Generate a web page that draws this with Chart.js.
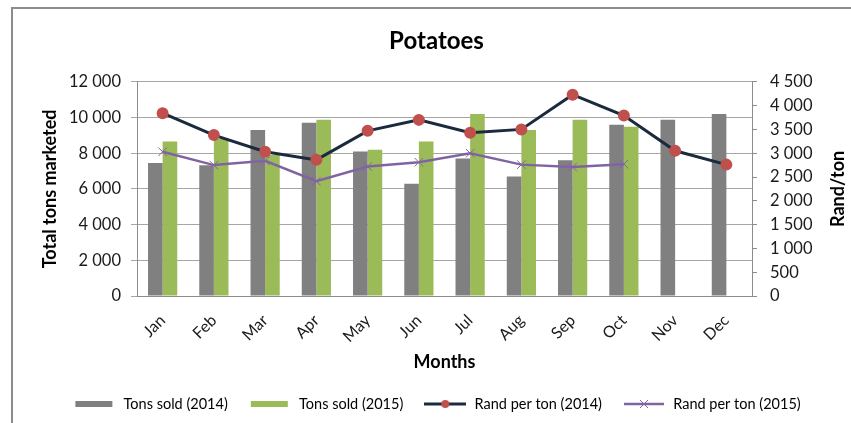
<!DOCTYPE html>
<html lang="en">
<head>
    <meta charset="UTF-8">
    <title>Potatoes</title>
    <script src="https://cdn.jsdelivr.net/npm/chart.js"></script>
    <style>
        body { margin: 0; background: #fff; }
        #frame {
            position: absolute;
            left: 11px;
            top: 7px;
            width: 900px;
            height: 500px;
            border: 2px solid #8c8c8c;
        }
        #potatoChart { position: absolute; left: 0; top: 0; }
    </style>
</head>
<body>
    <div id="frame"></div>
    <canvas id="potatoChart" width="851" height="423"></canvas>

    <script>
        const months = ['Jan', 'Feb', 'Mar', 'Apr', 'May', 'Jun', 'Jul', 'Aug', 'Sep', 'Oct', 'Nov', 'Dec'];
        const tons2014 = [7450, 7330, 9300, 9700, 8100, 6290, 7700, 6700, 7600, 9600, 9870, 10200];
        const tons2015 = [8650, 8800, 7900, 9880, 8190, 8650, 10200, 9300, 9870, 9480, null, null];
        const rand2014 = [3840, 3380, 3030, 2860, 3470, 3700, 3430, 3500, 4230, 3790, 3050, 2760];
        const rand2015 = [3030, 2750, 2840, 2410, 2720, 2810, 3000, 2760, 2710, 2770, null, null];

        const FONT = 'Lato, "Open Sans", sans-serif';
        const GRAY = '#808080';
        const GREEN = '#9bbb59';
        const NAVY = '#1b2a3c';
        const RED = '#c0504d';
        const PURPLE = '#8064a2';

        // thousands with a space: 12 000
        function spaced(v) {
            return String(v).replace(/\B(?=(\d{3})+(?!\d))/g, ' ');
        }

        // little pictures for the legend
        function legendIcon(kind) {
            const c = document.createElement('canvas');
            c.width = 42;
            c.height = 10;
            const g = c.getContext('2d');
            if (kind === 'gray' || kind === 'green') {
                g.fillStyle = kind === 'gray' ? GRAY : GREEN;
                g.fillRect(2, 2, 37, 6);
            } else if (kind === 'r14') {
                g.strokeStyle = NAVY;
                g.lineWidth = 3;
                g.beginPath(); g.moveTo(0, 5); g.lineTo(42, 5); g.stroke();
                g.fillStyle = RED;
                g.beginPath(); g.arc(21, 5, 4, 0, Math.PI * 2); g.fill();
            } else {
                g.strokeStyle = PURPLE;
                g.lineWidth = 2.5;
                g.beginPath(); g.moveTo(1, 5); g.lineTo(41, 5); g.stroke();
                g.lineWidth = 1;
                g.beginPath();
                g.moveTo(17, 1); g.lineTo(25, 9);
                g.moveTo(25, 1); g.lineTo(17, 9);
                g.stroke();
            }
            return c;
        }

        const icons = [legendIcon('gray'), legendIcon('green'), legendIcon('r14'), legendIcon('r15')];

        // right axis title reads bottom-to-top like the left one
        const rightTitle = {
            id: 'rightTitle',
            afterDraw(chart) {
                const ctx = chart.ctx;
                const area = chart.chartArea;
                ctx.save();
                ctx.translate(838, (area.top + area.bottom) / 2);
                ctx.rotate(-Math.PI / 2);
                ctx.font = 'bold 18px ' + FONT;
                ctx.fillStyle = '#000';
                ctx.textAlign = 'center';
                ctx.textBaseline = 'middle';
                ctx.fillText('Rand/ton', 0, 0);
                ctx.restore();
            }
        };

        Chart.defaults.font.family = FONT;
        Chart.defaults.color = '#1a1a1a';

        new Chart(document.getElementById('potatoChart'), {
            type: 'bar',
            data: {
                labels: months,
                datasets: [
                    {
                        label: 'Tons sold (2014)',
                        data: tons2014,
                        backgroundColor: GRAY,
                        yAxisID: 'y',
                        order: 2
                    },
                    {
                        label: 'Tons sold (2015)',
                        data: tons2015,
                        backgroundColor: GREEN,
                        yAxisID: 'y',
                        order: 2
                    },
                    {
                        type: 'line',
                        label: 'Rand per ton (2014)',
                        data: rand2014,
                        borderColor: NAVY,
                        borderWidth: 3,
                        pointStyle: 'circle',
                        pointRadius: 4.5,
                        pointBackgroundColor: RED,
                        pointBorderColor: RED,
                        tension: 0,
                        yAxisID: 'y1',
                        order: 1
                    },
                    {
                        type: 'line',
                        label: 'Rand per ton (2015)',
                        data: rand2015,
                        borderColor: PURPLE,
                        borderWidth: 2.5,
                        pointStyle: 'crossRot',
                        pointRadius: 6,
                        pointBorderWidth: 1,
                        pointBorderColor: PURPLE,
                        tension: 0,
                        yAxisID: 'y1',
                        order: 1
                    }
                ]
            },
            options: {
                responsive: false,
                animation: false,
                layout: { padding: { left: 22, right: 0, top: 0, bottom: 1.75 } },
                datasets: {
                    bar: { categoryPercentage: 0.57, barPercentage: 1 }
                },
                scales: {
                    x: {
                        grid: { display: false },
                        border: { display: true, color: '#8c8c8c', width: 1 },
                        ticks: {
                            font: { size: 16 },
                            maxRotation: 45,
                            minRotation: 45,
                            padding: 7
                        },
                        title: {
                            display: true,
                            text: 'Months',
                            font: { size: 18, weight: 'bold' },
                            color: '#000',
                            padding: { top: 0, bottom: 4 }
                        },
                        afterFit: (s) => { s.height = 80.75; }
                    },
                    y: {
                        position: 'left',
                        min: 0,
                        max: 12000,
                        ticks: {
                            stepSize: 2000,
                            font: { size: 16.5 },
                            padding: 10,
                            callback: (v) => spaced(v)
                        },
                        grid: { color: '#a6a6a6', tickLength: 6 },
                        border: { color: '#8c8c8c' },
                        title: {
                            display: true,
                            text: 'Total tons marketed',
                            font: { size: 18, weight: 'bold' },
                            color: '#000',
                            padding: { top: 17, bottom: 0 }
                        },
                        afterFit: (s) => { s.width = 115; }
                    },
                    y1: {
                        position: 'right',
                        min: 0,
                        max: 4500,
                        ticks: {
                            stepSize: 500,
                            font: { size: 16.5 },
                            padding: 13,
                            callback: (v) => spaced(v)
                        },
                        grid: { drawOnChartArea: false, color: '#8c8c8c', tickLength: 5 },
                        border: { color: '#8c8c8c' },
                        afterFit: (s) => { s.width = 99; }
                    }
                },
                plugins: {
                    title: {
                        display: true,
                        text: 'Potatoes',
                        color: '#000',
                        font: { size: 24, weight: 'bold' },
                        padding: { top: 27, bottom: 26 }
                    },
                    legend: {
                        position: 'bottom',
                        labels: {
                            usePointStyle: true,
                            pointStyleWidth: 44,
                            boxHeight: 10,
                            padding: 20,
                            color: '#1a1a1a',
                            font: { size: 14.5 },
                            generateLabels: (chart) => chart.data.datasets.map((ds, i) => ({
                                text: ds.label,
                                pointStyle: icons[i],
                                datasetIndex: i,
                                hidden: false,
                                lineWidth: 0,
                                strokeStyle: 'transparent',
                                fillStyle: 'transparent'
                            }))
                        }
                    },
                    tooltip: { enabled: false }
                }
            },
            plugins: [rightTitle]
        });
    </script>
</body>
</html>
